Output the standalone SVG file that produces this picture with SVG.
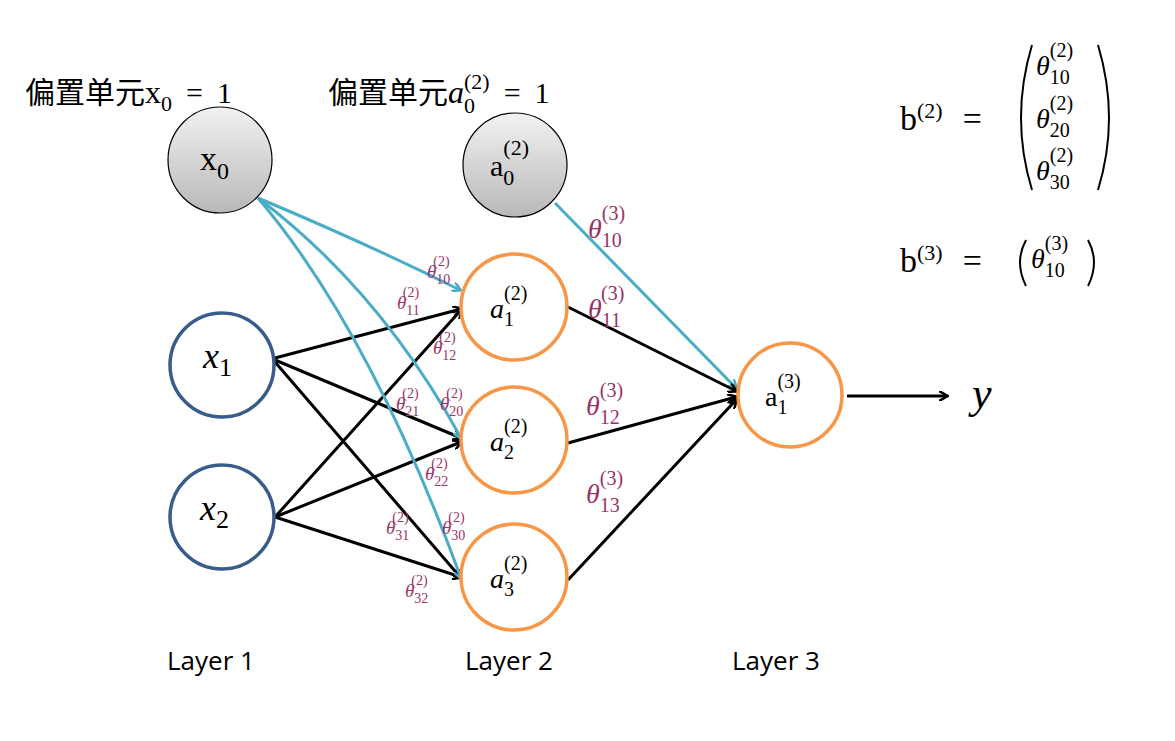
<svg xmlns="http://www.w3.org/2000/svg" width="1175" height="741" viewBox="0 0 1175 741">
<style>
.m{font-family:"Liberation Serif","DejaVu Serif",serif}
.i{font-style:italic}
.t{fill:#993366;font-family:"Liberation Serif",serif}
.cjk{font-family:"Noto Sans CJK SC","Liberation Serif",serif}
.lay{font-family:"Open Sans","Liberation Sans",sans-serif;font-size:26px}
.blk{stroke:#000;stroke-width:3;fill:none;marker-end:url(#ab)}
.blu{stroke:#4BACC6;stroke-width:3;fill:none;marker-end:url(#au)}
.or{fill:#fff;stroke:#F79646;stroke-width:3.5}
.bl{fill:#fff;stroke:#385D8A;stroke-width:3.5}
.gr{fill:url(#g);stroke:#000;stroke-width:1.2}
</style>
<defs>
<linearGradient id="g" x1="0" y1="0" x2="0" y2="1"><stop offset="0" stop-color="#f2f2f2"/><stop offset="1" stop-color="#b8b8b8"/></linearGradient>
<marker id="ab" markerWidth="10" markerHeight="10" refX="8" refY="5" orient="auto" markerUnits="userSpaceOnUse" viewBox="0 0 10 10"><path d="M0,0 L9,5 L0,10" fill="none" stroke="#000" stroke-width="2.5"/></marker>
<marker id="au" markerWidth="10" markerHeight="10" refX="8" refY="5" orient="auto" markerUnits="userSpaceOnUse" viewBox="0 0 10 10"><path d="M0,0 L9,5 L0,10" fill="none" stroke="#4BACC6" stroke-width="2.5"/></marker>
</defs>
<rect width="1175" height="741" fill="#fff"/>
<g id="connectors">
<line class="blk" x1="275" y1="358" x2="461" y2="309"/>
<line class="blk" x1="275" y1="360" x2="461" y2="438"/>
<line class="blk" x1="275" y1="362" x2="461" y2="578"/>
<line class="blk" x1="275" y1="517" x2="461" y2="310"/>
<line class="blk" x1="275" y1="517" x2="461" y2="442"/>
<line class="blk" x1="275" y1="517" x2="461" y2="577"/>
<path class="blu" d="M258,198 Q370,245 460,290"/>
<path class="blu" d="M258,198 Q380,290 461,438"/>
<path class="blu" d="M258,198 Q370,330 461,578"/>
<line class="blu" x1="555" y1="203" x2="736" y2="388"/>
<line class="blk" x1="568" y1="307" x2="736" y2="391"/>
<line class="blk" x1="568" y1="443" x2="736" y2="397"/>
<line class="blk" x1="568" y1="580" x2="736" y2="400"/>
<line class="blk" x1="847" y1="396" x2="947" y2="396"/>
</g>
<g id="bias-label-1"><text x="25" y="103" font-size="30"><tspan class="cjk">偏置单元</tspan><tspan class="m" font-size="32">x</tspan><tspan class="m" font-size="22" dy="8">0</tspan><tspan class="m" dy="-8" dx="14">=</tspan><tspan class="m" dx="14">1</tspan></text></g>
<g id="bias-label-2"><text x="328" y="103" font-size="30"><tspan class="cjk">偏置单元</tspan><tspan class="m i" font-size="32">a</tspan><tspan class="m" font-size="22" dy="10">0</tspan><tspan class="m" font-size="22" dx="-11" dy="-24">(2)</tspan><tspan class="m" dy="14" dx="14">=</tspan><tspan class="m" dx="14">1</tspan></text></g>
<g id="x0"><ellipse class="gr" cx="220" cy="160" rx="52" ry="53"/><text class="m" x="200" y="170" font-size="34">x<tspan font-size="24" dy="9">0</tspan></text></g>
<g id="a0"><ellipse class="gr" cx="515" cy="165" rx="52" ry="52"/><text class="m" x="490" y="176" font-size="30">a<tspan font-size="22" dy="9">0</tspan><tspan font-size="22" dx="-11" dy="-30">(2)</tspan></text></g>
<g id="x1"><circle class="bl" cx="222" cy="365" r="52"/><text class="m i" x="203" y="368" font-size="36">x<tspan font-style="normal" font-size="26" dy="8">1</tspan></text></g>
<g id="x2"><circle class="bl" cx="222" cy="517" r="52"/><text class="m i" x="200" y="520" font-size="36">x<tspan font-style="normal" font-size="26" dy="8">2</tspan></text></g>
<g id="a1"><circle class="or" cx="514" cy="307" r="53"/><text class="m i" x="490" y="318" font-size="28">a<tspan font-style="normal" font-size="20" dy="8">1</tspan><tspan font-style="normal" font-size="20" dx="-10" dy="-26">(2)</tspan></text></g>
<g id="a2"><circle class="or" cx="514" cy="440" r="53"/><text class="m i" x="490" y="451" font-size="28">a<tspan font-style="normal" font-size="20" dy="8">2</tspan><tspan font-style="normal" font-size="20" dx="-10" dy="-26">(2)</tspan></text></g>
<g id="a3"><circle class="or" cx="514" cy="577" r="53"/><text class="m i" x="490" y="588" font-size="28">a<tspan font-style="normal" font-size="20" dy="8">3</tspan><tspan font-style="normal" font-size="20" dx="-10" dy="-26">(2)</tspan></text></g>
<g id="a13"><circle class="or" cx="790" cy="395" r="52"/><text class="m" x="765" y="406" font-size="28">a<tspan font-size="20" dy="8">1</tspan><tspan font-size="20" dx="-10" dy="-26">(3)</tspan></text></g>
<g id="y"><text class="m i" x="972" y="408" font-size="44">y</text></g>
<g id="weights-l2" font-size="19">
<text class="t" x="427" y="278"><tspan font-style="italic">θ</tspan><tspan font-size="14" dy="6">10</tspan><tspan font-size="14" dx="-17" dy="-18">(2)</tspan></text>
<text class="t" x="397" y="309"><tspan font-style="italic">θ</tspan><tspan font-size="14" dy="6">11</tspan><tspan font-size="14" dx="-17" dy="-18">(2)</tspan></text>
<text class="t" x="433" y="354"><tspan font-style="italic">θ</tspan><tspan font-size="14" dy="6">12</tspan><tspan font-size="14" dx="-17" dy="-18">(2)</tspan></text>
<text class="t" x="396" y="410"><tspan font-style="italic">θ</tspan><tspan font-size="14" dy="6">21</tspan><tspan font-size="14" dx="-17" dy="-18">(2)</tspan></text>
<text class="t" x="440" y="410"><tspan font-style="italic">θ</tspan><tspan font-size="14" dy="6">20</tspan><tspan font-size="14" dx="-17" dy="-18">(2)</tspan></text>
<text class="t" x="425" y="480"><tspan font-style="italic">θ</tspan><tspan font-size="14" dy="6">22</tspan><tspan font-size="14" dx="-17" dy="-18">(2)</tspan></text>
<text class="t" x="386" y="534"><tspan font-style="italic">θ</tspan><tspan font-size="14" dy="6">31</tspan><tspan font-size="14" dx="-17" dy="-18">(2)</tspan></text>
<text class="t" x="442" y="534"><tspan font-style="italic">θ</tspan><tspan font-size="14" dy="6">30</tspan><tspan font-size="14" dx="-17" dy="-18">(2)</tspan></text>
<text class="t" x="405" y="597"><tspan font-style="italic">θ</tspan><tspan font-size="14" dy="6">32</tspan><tspan font-size="14" dx="-17" dy="-18">(2)</tspan></text>
</g>
<g id="weights-l3" font-size="28">
<text class="t" x="588" y="238"><tspan font-style="italic">θ</tspan><tspan font-size="20" dy="9">10</tspan><tspan font-size="20" dx="-20" dy="-27">(3)</tspan></text>
<text class="t" x="588" y="318"><tspan font-style="italic">θ</tspan><tspan font-size="20" dy="9">11</tspan><tspan font-size="20" dx="-20" dy="-27">(3)</tspan></text>
<text class="t" x="586" y="415"><tspan font-style="italic">θ</tspan><tspan font-size="20" dy="9">12</tspan><tspan font-size="20" dx="-20" dy="-27">(3)</tspan></text>
<text class="t" x="586" y="503"><tspan font-style="italic">θ</tspan><tspan font-size="20" dy="9">13</tspan><tspan font-size="20" dx="-20" dy="-27">(3)</tspan></text>
</g>
<g id="b2" class="m">
<text x="900" y="130" font-size="34">b<tspan font-size="22" dy="-12">(2)</tspan><tspan dy="12" dx="20">=</tspan></text>
<path d="M1032,45 Q1010,118 1032,190 M1098,45 Q1120,118 1098,190" fill="none" stroke="#000" stroke-width="2"/>
<text x="1036" y="75" font-size="28"><tspan font-style="italic">θ</tspan><tspan font-size="20" dy="9">10</tspan><tspan font-size="20" dx="-20" dy="-27">(2)</tspan></text>
<text x="1036" y="128" font-size="28"><tspan font-style="italic">θ</tspan><tspan font-size="20" dy="9">20</tspan><tspan font-size="20" dx="-20" dy="-27">(2)</tspan></text>
<text x="1036" y="180" font-size="28"><tspan font-style="italic">θ</tspan><tspan font-size="20" dy="9">30</tspan><tspan font-size="20" dx="-20" dy="-27">(2)</tspan></text>
</g>
<g id="b3" class="m">
<text x="900" y="272" font-size="34">b<tspan font-size="22" dy="-12">(3)</tspan><tspan dy="12" dx="20">=</tspan></text>
<path d="M1026,240 Q1014,262 1026,286 M1088,240 Q1100,262 1088,286" fill="none" stroke="#000" stroke-width="2"/>
<text x="1031" y="268" font-size="28"><tspan font-style="italic">θ</tspan><tspan font-size="20" dy="9">10</tspan><tspan font-size="20" dx="-20" dy="-27">(3)</tspan></text>
</g>
<g id="layers">
<text class="lay" x="167" y="670">Layer 1</text>
<text class="lay" x="465" y="670">Layer 2</text>
<text class="lay" x="732" y="670">Layer 3</text>
</g>
</svg>
